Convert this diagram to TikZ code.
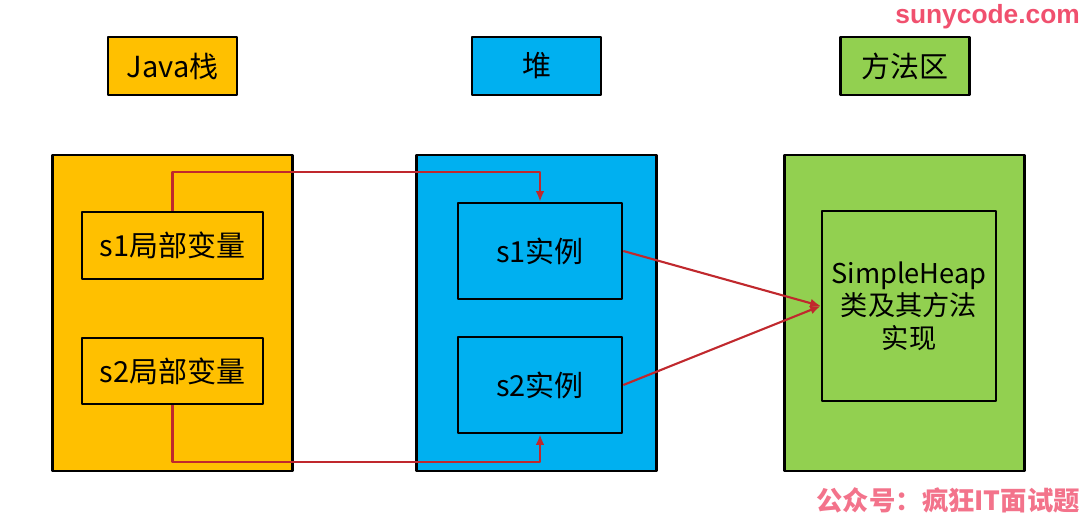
\documentclass[tikz,border=0pt]{standalone}
\usepackage{fontspec}
\newfontfamily\cjk{Noto Sans CJK SC}
\newfontfamily\latin{Liberation Sans}
\usetikzlibrary{arrows.meta}
\definecolor{stackc}{HTML}{FFC000}
\definecolor{heapc}{HTML}{00B0F0}
\definecolor{methodc}{HTML}{92D050}
\definecolor{refc}{HTML}{C0282D}
\definecolor{markc}{HTML}{F0506E}
\begin{document}
\begin{tikzpicture}[x=0.02cm,y=-0.02cm,line join=bevel]
  \tikzstyle{headbox}=[draw,line width=1.5pt,minimum width=2.58cm,minimum height=1.16cm,font=\cjk\fontsize{16.5}{19}\selectfont]
  \tikzstyle{areabox}=[draw,line width=1.5pt,minimum width=4.8cm,minimum height=6.32cm]
  \tikzstyle{cellbox}=[draw,line width=1.5pt,align=center,font=\cjk\fontsize{16.5}{19}\selectfont]
  \tikzstyle{refline}=[refc,line width=1.2pt,-{Latex[length=6pt,width=5pt]}]
  \useasboundingbox (0,0) rectangle (1084,519);

  \node[headbox,fill=stackc] (hStack) at (172.5,66) {Java栈};
  \node[headbox,fill=heapc] (hHeap) at (536.5,66) {堆};
  \node[headbox,fill=methodc] (hMethod) at (905,66) {方法区};

  \node[areabox,fill=stackc] (stack) at (172.5,313) {};
  \node[areabox,fill=heapc] (heap) at (536.5,313) {};
  \node[areabox,fill=methodc] (method) at (904.5,313) {};

  \node[cellbox,minimum width=3.62cm,minimum height=1.34cm] (s1var) at (172.5,245.5) {s1局部变量};
  \node[cellbox,minimum width=3.62cm,minimum height=1.32cm] (s2var) at (172.5,371) {s2局部变量};
  \node[cellbox,minimum width=3.28cm,minimum height=1.92cm] (s1obj) at (540,251) {s1实例};
  \node[cellbox,minimum width=3.28cm,minimum height=1.92cm] (s2obj) at (540,385) {s2实例};
  \node[cellbox,minimum width=3.48cm,minimum height=3.8cm,font=\cjk\fontsize{15.5}{18.5}\selectfont] (cls) at (909,306) {SimpleHeap\\类及其方法\\实现};

  \coordinate (upper) at (540,172);
  \coordinate (lower) at (540,462);
  \draw[refline] (s1var.north) |- (upper) -- (s1obj.north);
  \draw[refline] (s2var.south) |- (lower) -- (s2obj.south);
  \draw[refline] (s1obj.east) -- (cls.west);
  \draw[refline] (s2obj.east) -- (cls.west);

  \node[markc,anchor=east,inner sep=1pt,font=\latin\bfseries\fontsize{15}{18}\selectfont] (site) at (1082,17) {sunycode.com};
  \node[markc!80,anchor=east,inner sep=1pt,font=\cjk\bfseries\fontsize{15}{18}\selectfont] (wechat) at (1082,500) {公众号：疯狂IT面试题};
\end{tikzpicture}
\end{document}
